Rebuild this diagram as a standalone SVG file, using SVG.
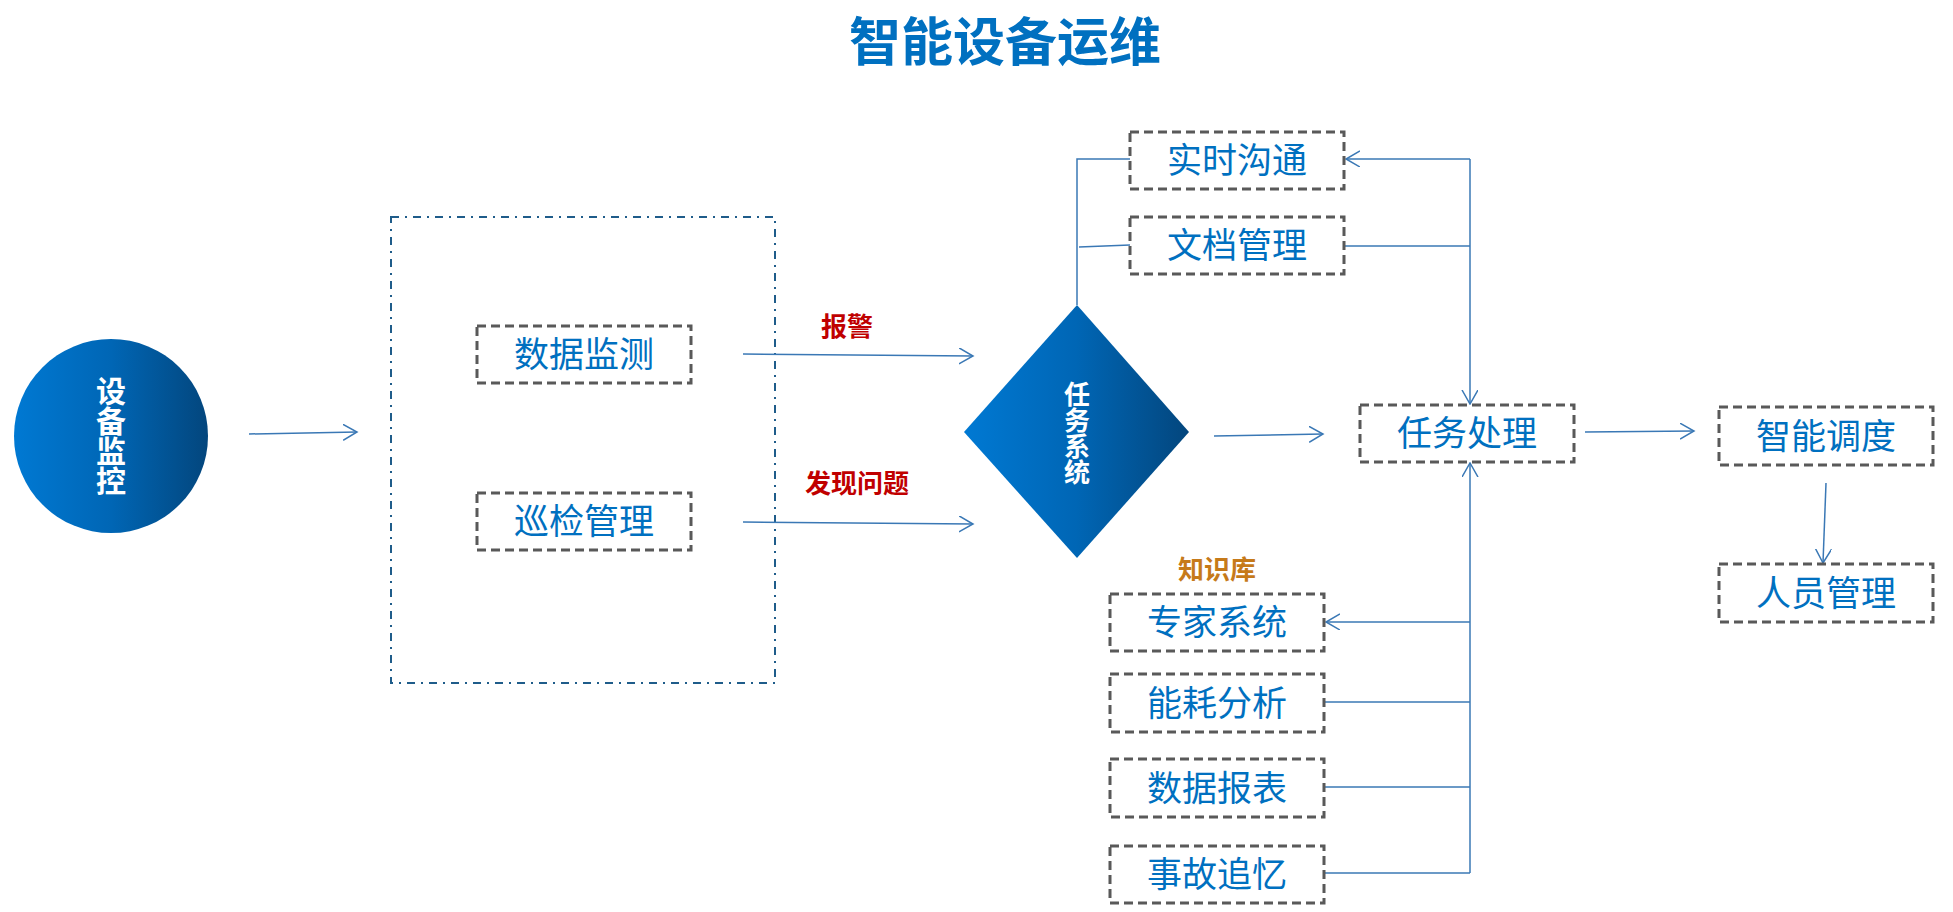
<svg xmlns="http://www.w3.org/2000/svg" width="1953" height="912" viewBox="0 0 1953 912">
<style>
text{font-family:"Noto Sans CJK SC","Noto Sans",sans-serif;}
.box{fill:#ffffff;stroke:#595959;stroke-width:3;stroke-dasharray:9 5;}
.bt{font-size:35px;fill:#0070C0;text-anchor:middle;}
.wt{font-weight:bold;fill:#ffffff;text-anchor:middle;writing-mode:vertical-rl;}
.lbl{font-size:26px;font-weight:bold;text-anchor:middle;}
.conn{fill:none;stroke:#3A78B5;stroke-width:1.5;}
</style>
<defs>
<linearGradient id="g" x1="0" y1="0" x2="1" y2="0">
<stop offset="0" stop-color="#0079D3"/>
<stop offset="0.5" stop-color="#0066B5"/>
<stop offset="1" stop-color="#03467D"/>
</linearGradient>
<marker id="arr" markerUnits="userSpaceOnUse" markerWidth="16" markerHeight="18" refX="14" refY="8" orient="auto" viewBox="0 0 16 18">
<path d="M0,0 L14,8 L0,16" fill="none" stroke="#3A78B5" stroke-width="1.5"/>
</marker>
</defs>
<rect width="1953" height="912" fill="#ffffff"/>
<text x="1005" y="61" font-size="52" font-weight="bold" fill="#0070C0" text-anchor="middle">智能设备运维</text>
<rect id="container" x="391" y="217" width="384" height="466" fill="none" stroke="#1F5C8A" stroke-width="2" stroke-dasharray="8 6 2 6"/>
<g id="connectors">
<path class="conn" d="M249,434 L357,432" marker-end="url(#arr)"/>
<path class="conn" d="M743,354 L973,356" marker-end="url(#arr)"/>
<path class="conn" d="M743,522 L973,524" marker-end="url(#arr)"/>
<path class="conn" d="M1214,436 L1323,434" marker-end="url(#arr)"/>
<path class="conn" d="M1585,432 L1694,431" marker-end="url(#arr)"/>
<path class="conn" d="M1826,483 L1823,563" marker-end="url(#arr)"/>
<path class="conn" d="M1077,305 L1077,159 L1130,159"/>
<path class="conn" d="M1079,247 L1130,245"/>
<path class="conn" d="M1470,159 L1346,159" marker-end="url(#arr)"/>
<path class="conn" d="M1470,159 L1470,404" marker-end="url(#arr)"/>
<path class="conn" d="M1344,246 L1470,246"/>
<path class="conn" d="M1470,873 L1470,463" marker-end="url(#arr)"/>
<path class="conn" d="M1324,873 L1470,873"/>
<path class="conn" d="M1324,787 L1470,787"/>
<path class="conn" d="M1324,702 L1470,702"/>
<path class="conn" d="M1470,622 L1326,622" marker-end="url(#arr)"/>
</g>
<g id="n-shebei">
<circle cx="111" cy="436" r="97" fill="url(#g)"/>
<text class="wt" font-size="30" x="111" y="436">设备监控</text>
</g>
<g id="n-shuju"><rect class="box" x="477" y="326" width="214" height="57"/><text class="bt" x="584" y="367">数据监测</text></g>
<g id="n-xunjian"><rect class="box" x="477" y="493" width="214" height="57"/><text class="bt" x="584" y="534">巡检管理</text></g>
<g id="l-baojing"><text class="lbl" x="847" y="336" fill="#C00000">报警</text></g>
<g id="l-faxian"><text class="lbl" x="857" y="493" fill="#C00000">发现问题</text></g>
<g id="n-renwu">
<polygon points="964,432 1077,305 1189,432 1077,558" fill="url(#g)"/>
<text class="wt" font-size="26" x="1077" y="433">任务系统</text>
</g>
<g id="n-shishi"><rect class="box" x="1130" y="132" width="214" height="57"/><text class="bt" x="1237" y="173">实时沟通</text></g>
<g id="n-wendang"><rect class="box" x="1130" y="217" width="214" height="57"/><text class="bt" x="1237" y="258">文档管理</text></g>
<g id="n-chuli"><rect class="box" x="1360" y="405" width="214" height="57"/><text class="bt" x="1467" y="446">任务处理</text></g>
<g id="n-diaodu"><rect class="box" x="1719" y="407" width="214" height="58"/><text class="bt" x="1826" y="449">智能调度</text></g>
<g id="n-renyuan"><rect class="box" x="1719" y="564" width="214" height="58"/><text class="bt" x="1826" y="606">人员管理</text></g>
<g id="l-zhishi"><text class="lbl" x="1217" y="579" fill="#C67A1A">知识库</text></g>
<g id="n-zhuanjia"><rect class="box" x="1110" y="594" width="214" height="57"/><text class="bt" x="1217" y="635">专家系统</text></g>
<g id="n-nenghao"><rect class="box" x="1110" y="674" width="214" height="58"/><text class="bt" x="1217" y="716">能耗分析</text></g>
<g id="n-baobiao"><rect class="box" x="1110" y="759" width="214" height="58"/><text class="bt" x="1217" y="801">数据报表</text></g>
<g id="n-shigu"><rect class="box" x="1110" y="846" width="214" height="57"/><text class="bt" x="1217" y="887">事故追忆</text></g>
</svg>
